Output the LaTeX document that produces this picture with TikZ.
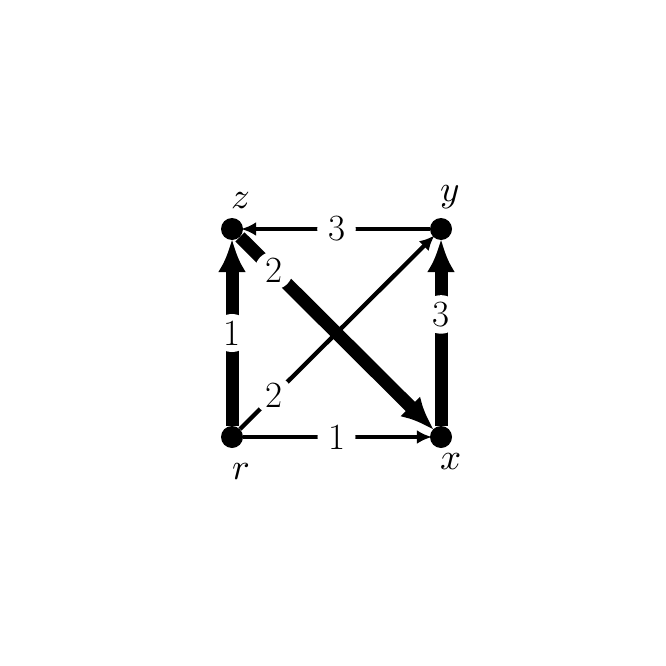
\documentclass[tikz,border=0pt]{standalone}
\usepackage{fontspec}
\usepackage{unicode-math}
\usetikzlibrary{arrows.meta}
\begin{document}
\begin{tikzpicture}[x=1pt,y=-1pt,
  every node/.style={font=\fontsize{37}{44}\selectfont},
  vtx/.style={circle,fill=black,inner sep=0pt,minimum size=22pt},
  lab/.style={circle,fill=white,inner sep=3pt},
  vname/.style={anchor=base,inner sep=0pt},
  thinedge/.style={line width=4.3pt,-{Latex[length=15pt,width=14pt]},shorten >=-2pt},
  thickedge/.style={line width=13pt,-{Latex[length=34pt,width=28pt]},shorten >=-2pt}]
\useasboundingbox (0,0) rectangle (666,666);
\node[vtx] (r) at (232,437) {};
\node[vtx] (x) at (441,437) {};
\node[vtx] (z) at (232,229) {};
\node[vtx] (y) at (441,229) {};
\node[vname] (zl) at (241,208) {$z$};
\node[vname] (yl) at (450,201) {$y$};
\node[vname] (rl) at (241,479) {$r$};
\node[vname] (xl) at (451,469) {$x$};
\draw[thickedge] (r) -- node[lab]{1} (z);
\draw[thinedge] (r) -- node[lab]{1} (x);
\draw[thinedge] (r) -- node[lab,pos=0.175]{2} (y);
\draw[thinedge] (y) -- node[lab]{3} (z);
\draw[thickedge] (z) -- node[lab,pos=0.175]{2} (x);
\draw[thickedge] (x) -- node[lab,pos=0.6]{3} (y);
\end{tikzpicture}
\end{document}
